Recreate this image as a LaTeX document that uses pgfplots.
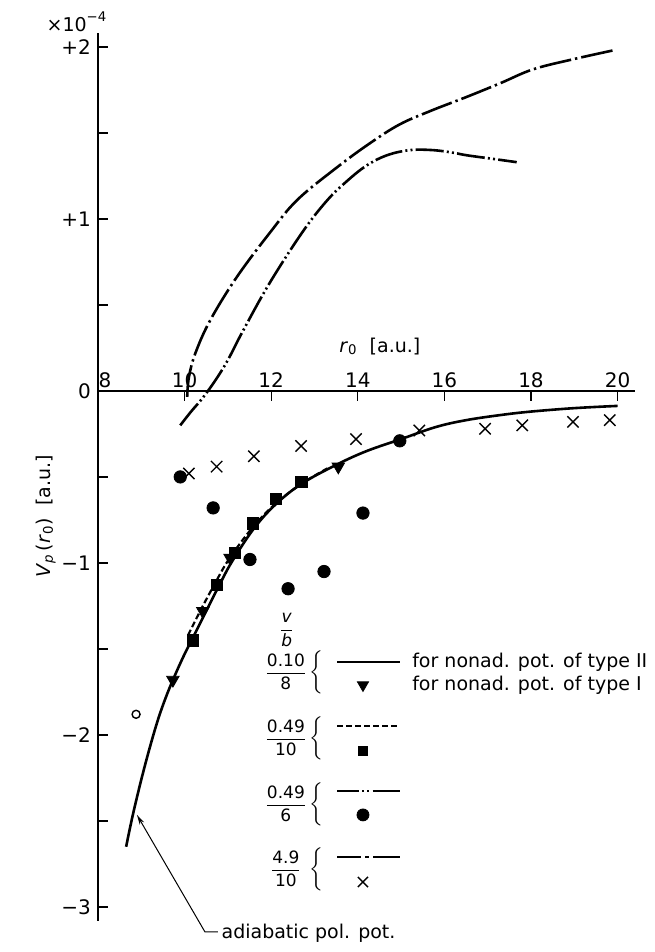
\documentclass[border=0pt]{standalone}
\usepackage{amsmath}
\usepackage{fontspec}
\setmainfont{DejaVu Sans}
\usepackage{pgfplots}
\pgfplotsset{compat=1.18}
\usetikzlibrary{arrows.meta}

\tikzset{
  dashdot/.style={line width=1.3pt, dash pattern=on 16pt off 2pt on 1.2pt off 2pt},
  dashdotdot/.style={line width=1.3pt, dash pattern=on 14pt off 1.6pt on 1pt off 1.6pt on 1pt off 1.6pt},
  dashedcurve/.style={line width=1.1pt, dash pattern=on 3pt off 1.5pt},
}
\newcommand{\fr}[2]{{\fontsize{8.5}{9}\selectfont$\dfrac{\text{#1}}{\text{#2}}$}}
\newcommand{\br}{$\left\{\rule[-8pt]{0pt}{18pt}\right.$}

\begin{document}
\begin{tikzpicture}[font=\fontsize{9.5}{11}\selectfont]
\begin{axis}[
  x=21.65pt, y=86pt,
  xmin=8, xmax=20.4, ymin=-3.08, ymax=2.08,
  axis x line=middle, axis y line=left,
  axis line style={-, line width=0.8pt},
  clip=false,
  hide obscured x ticks=false,
  xtick={8,10,...,20}, xticklabels={\kern7pt 8,10,12,14,16,18,20},
  xticklabel style={anchor=south, yshift=3pt},
  xtick align=outside,
  ytick={-3,-2,-1,0,1,2}, yticklabels={−3,−2,−1,0,+1,+2},
  minor ytick={-2.5,-1.5,-0.5,0.5,1.5},
  ytick align=inside,
  major tick length=5pt, minor tick length=5pt,
  tick style={line width=0.6pt, black},
  tick label style={font=\fontsize{10}{12}\selectfont},
]
% bounding box of the figure
\path (axis cs:5.737,2.273) rectangle (axis cs:20.864,-3.262);

% v/b = 0.10/8, nonadiabatic potential of type II
\addplot[line width=1.3pt, smooth, tension=0.6] coordinates {
 (8.65,-2.65) (8.8,-2.47) (9.0,-2.26) (9.2,-2.07) (9.4,-1.90) (9.6,-1.76)
 (9.8,-1.64) (10.0,-1.53) (10.2,-1.43) (10.5,-1.28) (10.8,-1.13) (11.1,-0.99) (11.6,-0.80)
 (12.1,-0.66) (12.7,-0.54) (13.5,-0.43) (14.2,-0.35) (15.0,-0.28) (15.8,-0.21)
 (16.5,-0.17) (17.3,-0.14) (18.0,-0.12) (19.0,-0.10) (20.0,-0.087)
};
% v/b = 0.49/10
\addplot[dashedcurve, smooth, tension=0.6] coordinates {
 (10.08,-1.42) (10.38,-1.27) (10.70,-1.12) (11.02,-0.98) (11.55,-0.80)
 (12.08,-0.66) (12.7,-0.54) (13.3,-0.45)
};
% v/b = 4.9/10
\addplot[dashdot, smooth, tension=0.6] coordinates {
 (10.06,-0.035) (10.1,0.08) (10.25,0.22) (10.59,0.41) (11.2,0.66) (11.97,0.92)
 (12.6,1.11) (13.52,1.30) (14.28,1.44) (14.97,1.55) (15.7,1.63) (16.52,1.71)
 (17.3,1.79) (18.05,1.87) (19.0,1.93) (19.9,1.98)
};
% v/b = 0.49/6
\addplot[dashdotdot, smooth, tension=0.6] coordinates {
 (9.9,-0.20) (10.15,-0.12) (10.42,-0.04) (10.72,0.065) (11.0,0.18) (11.35,0.35)
 (11.97,0.63) (12.74,0.93) (13.3,1.11) (13.75,1.22) (14.2,1.31) (14.67,1.37)
 (15.2,1.40) (15.74,1.40) (16.2,1.385) (16.52,1.37) (17.1,1.35) (17.67,1.33)
};

% type I points (0.10/8)
\addplot[only marks, mark=triangle*, mark size=3.6pt, mark options={rotate=180, fill=black}] coordinates {
 (9.73,-1.68) (10.42,-1.28) (11.05,-0.97) (13.55,-0.44)
};
% 0.49/10
\addplot[only marks, mark=square*, mark size=2.8pt, mark options={fill=black}] coordinates {
 (10.2,-1.45) (10.74,-1.13) (11.16,-0.94) (11.58,-0.77) (12.1,-0.63) (12.7,-0.53)
};
% 0.49/6
\addplot[only marks, mark=*, mark size=3.1pt, mark options={fill=black}] coordinates {
 (9.9,-0.50) (10.66,-0.68) (11.51,-0.98) (12.39,-1.15) (13.22,-1.05) (14.12,-0.71) (14.97,-0.29)
};
% 4.9/10
\addplot[only marks, mark=x, mark size=4pt, mark options={line width=0.7pt}] coordinates {
 (10.1,-0.48) (10.74,-0.44) (11.6,-0.38) (12.69,-0.32) (13.96,-0.28) (15.42,-0.23)
 (16.94,-0.22) (17.8,-0.20) (18.97,-0.18) (19.82,-0.17)
};
% open circle
\addplot[only marks, mark=o, mark size=2pt, mark options={line width=0.7pt}] coordinates {(8.88,-1.88)};

% legend samples
\addplot[line width=1.3pt] coordinates {(13.52,-1.576) (14.97,-1.576)};
\addplot[only marks, mark=triangle*, mark size=3.2pt, mark options={rotate=180, fill=black}] coordinates {(14.12,-1.71)};
\addplot[dashedcurve] coordinates {(13.52,-1.948) (14.97,-1.948)};
\addplot[only marks, mark=square*, mark size=2.4pt, mark options={fill=black}] coordinates {(14.12,-2.093)};
\addplot[line width=1.3pt, dash pattern=on 11pt off 1.6pt on 1pt off 1.6pt on 1pt off 1.6pt on 14pt] coordinates {(13.52,-2.326) (14.97,-2.326)};
\addplot[only marks, mark=*, mark size=3pt, mark options={fill=black}] coordinates {(14.12,-2.465)};
\addplot[line width=1.3pt, dash pattern=on 12pt off 2pt on 2pt off 2pt on 14pt] coordinates {(13.52,-2.709) (14.97,-2.709)};
\addplot[only marks, mark=x, mark size=3.6pt, mark options={line width=0.7pt}] coordinates {(14.12,-2.855)};

\node at (axis cs:12.36,-1.39) {\fr{\itshape v}{\itshape b}};
\node at (axis cs:12.34,-1.634) {\fr{0.10}{8}};
\node at (axis cs:12.34,-2.017) {\fr{0.49}{10}};
\node at (axis cs:12.34,-2.401) {\fr{0.49}{6}};
\node at (axis cs:12.34,-2.779) {\fr{4.9}{10}};
\node at (axis cs:13.08,-1.634) {\br};
\node at (axis cs:13.08,-2.017) {\br};
\node at (axis cs:13.08,-2.401) {\br};
\node at (axis cs:13.08,-2.779) {\br};
\node[anchor=west, inner sep=0pt] at (axis cs:15.25,-1.576) {for nonad. pot. of type $\mathrm{II}$};
\node[anchor=west, inner sep=0pt] at (axis cs:15.25,-1.71) {for nonad. pot. of type $\mathrm{I}$};

% axis texts
\node at (axis cs:7.515,2.145) {×10\textsuperscript{−4}};
\node at (axis cs:14.51,0.256) {\textit{r}\textsubscript{0}\ \ [a.u.]};
\node[rotate=90] at (axis cs:6.80,-0.73) {\textit{V}\textsubscript{\textit{p}}\,(\textit{r}\textsubscript{0})\ \ [a.u.]};

% adiabatic polarization potential
\draw[-{Stealth[length=5pt,width=2.5pt]}, line width=0.5pt]
  (axis cs:10.77,-3.145) -- (axis cs:10.47,-3.145) -- (axis cs:8.90,-2.465);
\node[anchor=west, inner sep=1pt] at (axis cs:10.80,-3.155) {adiabatic pol. pot.};
\end{axis}
\end{tikzpicture}
\end{document}
